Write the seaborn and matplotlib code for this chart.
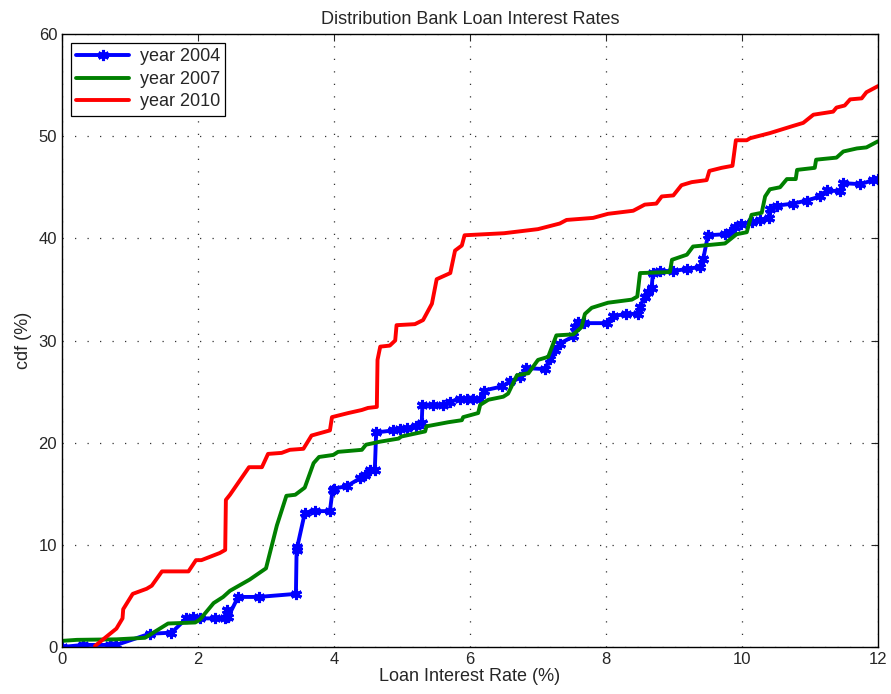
import matplotlib
matplotlib.use("Agg")
import matplotlib.pyplot as plt
import seaborn as sns
import pandas as pd

# ---- data ----
x2004 = [0.0, 0.31, 0.71, 0.80, 1.29, 1.61, 1.83, 1.93, 2.03, 2.25, 2.40, 2.42, 2.44, 2.59, 2.89,
         3.44, 3.45, 3.46, 3.57, 3.72, 3.94, 3.98, 4.00, 4.19, 4.38, 4.46, 4.53, 4.60, 4.62, 4.87, 4.97,
         5.07, 5.21, 5.29, 5.30, 5.45, 5.61, 5.71, 5.85, 5.95, 6.05, 6.15, 6.20, 6.47, 6.59, 6.74,
         6.83, 7.10, 7.18, 7.25, 7.32, 7.52, 7.54, 7.59, 7.67, 8.01, 8.11, 8.30, 8.47, 8.50, 8.57,
         8.62, 8.67, 8.69, 8.79, 8.99, 9.19, 9.38, 9.43, 9.50, 9.75, 9.82, 9.90, 9.99, 10.14, 10.26,
         10.39, 10.41, 10.51, 10.75, 10.95, 11.15, 11.25, 11.44, 11.49, 11.74, 11.93, 12.0]
y2004 = [0.0, 0.2, 0.2, 0.2, 1.3, 1.4, 2.8, 2.9, 2.8, 2.8, 2.8, 3.6, 2.9, 4.9, 4.9,
         5.2, 9.5, 9.8, 13.1, 13.3, 13.3, 15.4, 15.5, 15.75, 16.5, 16.8, 17.3, 17.3, 21.0, 21.2, 21.3,
         21.4, 21.6, 21.9, 23.7, 23.7, 23.7, 24.0, 24.3, 24.3, 24.3, 24.3, 25.1, 25.5, 26.0, 26.4,
         27.3, 27.2, 28.2, 29.1, 29.7, 30.4, 31.3, 31.8, 31.7, 31.7, 32.4, 32.6, 32.6, 33.3, 34.3,
         34.7, 35.1, 36.6, 36.8, 36.8, 37.0, 37.2, 38.0, 40.3, 40.4, 40.6, 41.1, 41.4, 41.6, 41.8,
         42.0, 42.9, 43.2, 43.4, 43.7, 44.1, 44.7, 44.6, 45.4, 45.3, 45.7, 45.8]

x2007 = [0.0, 0.22, 0.80, 1.22, 1.56, 1.96, 2.03, 2.23, 2.37, 2.47, 2.76, 3.0, 3.16, 3.30, 3.43,
         3.57, 3.70, 3.78, 3.99, 4.06, 4.41, 4.47, 4.68, 4.95, 4.99, 5.34, 5.36, 5.68, 5.88, 5.90,
         6.12, 6.15, 6.27, 6.49, 6.56, 6.69, 6.86, 7.00, 7.15, 7.27, 7.52, 7.64, 7.69, 7.79, 8.03,
         8.38, 8.46, 8.50, 8.94, 8.97, 9.19, 9.28, 9.75, 9.92, 10.07, 10.14, 10.29, 10.34, 10.41,
         10.56, 10.66, 10.79, 10.81, 11.07, 11.09, 11.39, 11.49, 11.69, 11.83, 12.0]
y2007 = [0.6, 0.7, 0.75, 0.9, 2.3, 2.4, 2.7, 4.3, 4.9, 5.5, 6.6, 7.7, 11.9, 14.8, 14.9,
         15.6, 18.0, 18.6, 18.8, 19.1, 19.3, 19.8, 20.1, 20.4, 20.6, 21.1, 21.6, 22.0, 22.2, 22.5,
         22.9, 23.7, 24.2, 24.5, 24.8, 26.6, 26.8, 28.1, 28.4, 30.5, 30.6, 31.3, 32.6, 33.2, 33.7,
         34.0, 34.3, 36.6, 36.7, 37.9, 38.4, 39.2, 39.5, 40.4, 40.6, 42.3, 42.5, 44.1, 44.8,
         45.0, 45.8, 45.8, 46.7, 46.9, 47.7, 47.9, 48.5, 48.8, 48.9, 49.5]

x2010 = [0.485, 0.80, 0.89, 0.90, 1.04, 1.245, 1.32, 1.47, 1.86, 1.91, 1.97, 2.05, 2.32, 2.40,
         2.41, 2.47, 2.75, 2.94, 3.03, 3.23, 3.35, 3.55, 3.67, 3.94, 3.97, 4.21, 4.41, 4.50, 4.63,
         4.64, 4.68, 4.82, 4.90, 4.92, 5.19, 5.31, 5.44, 5.51, 5.71, 5.78, 5.88, 5.92, 6.5, 7.0,
         7.32, 7.42, 7.81, 8.03, 8.40, 8.57, 8.74, 8.82, 8.99, 9.11, 9.26, 9.48, 9.52, 9.70, 9.86,
         9.91, 10.07, 10.12, 10.41, 10.75, 10.90, 11.05, 11.34, 11.39, 11.51, 11.59, 11.76, 11.83, 12.0]
y2010 = [0.1, 1.8, 2.8, 3.7, 5.2, 5.7, 6.0, 7.4, 7.4, 7.9, 8.5, 8.5, 9.2, 9.5,
         14.4, 14.9, 17.6, 17.6, 18.9, 19.0, 19.3, 19.4, 20.7, 21.2, 22.5, 22.9, 23.2, 23.4, 23.5,
         28.1, 29.4, 29.5, 30.0, 31.5, 31.6, 32.0, 33.6, 36.0, 36.6, 38.8, 39.3, 40.3, 40.5, 40.9,
         41.45, 41.8, 42.0, 42.4, 42.7, 43.3, 43.4, 44.1, 44.2, 45.2, 45.5, 45.7, 46.6, 46.9, 47.1,
         49.6, 49.6, 49.8, 50.3, 51.0, 51.3, 52.1, 52.4, 52.8, 53.0, 53.6, 53.7, 54.3, 54.9]

labels = ["year 2004", "year 2007", "year 2010"]
colors = ["#0000ff", "#008000", "#ff0000"]

sns.set_style("white")
plt.rcParams["font.family"] = ["Liberation Sans", "DejaVu Sans"]

fig = plt.figure(figsize=(8.91, 6.94), dpi=100)
ax = fig.add_axes([62/891, 1-647/694, (878-62)/891, (647-34)/694])

series = [(x2004, y2004), (x2007, y2007), (x2010, y2010)]
for i, ((xs, ys), lab, col) in enumerate(zip(series, labels, colors)):
    df = pd.DataFrame({"x": xs, "y": ys})
    kw = dict(marker=(6, 2, 0), markersize=8, markeredgewidth=2.2, markeredgecolor=col) if i == 0 else {}
    sns.lineplot(data=df, x="x", y="y", ax=ax, color=col, linewidth=2.8, label=lab,
                 sort=False, estimator=None, **kw)

ax.set_xlim(0, 12)
ax.set_ylim(0, 60)
ax.set_xticks(range(0, 13, 2))
ax.set_yticks(range(0, 61, 10))
ax.tick_params(direction="in", top=True, right=True, labelsize=12, length=5, width=0.8)
ax.grid(True, linestyle=(0, (1, 9)), color="#333333", linewidth=0.9)
for s in ax.spines.values():
    s.set_linewidth(1.0)
    s.set_color("black")

ax.set_xlabel("Loan Interest Rate (%)", fontsize=13, labelpad=1)
ax.set_ylabel("cdf (%)", fontsize=13, labelpad=5)
ax.set_title("Distribution Bank Loan Interest Rates", fontsize=13, pad=7)

leg = ax.legend(loc="upper left", fontsize=13, frameon=True, fancybox=False,
                edgecolor="black", framealpha=1, handlelength=2.9, borderpad=0.3,
                labelspacing=0.3, borderaxespad=0.5, handletextpad=0.6, numpoints=1)
leg.get_frame().set_linewidth(0.9)

fig.savefig("out.png", dpi=100)
